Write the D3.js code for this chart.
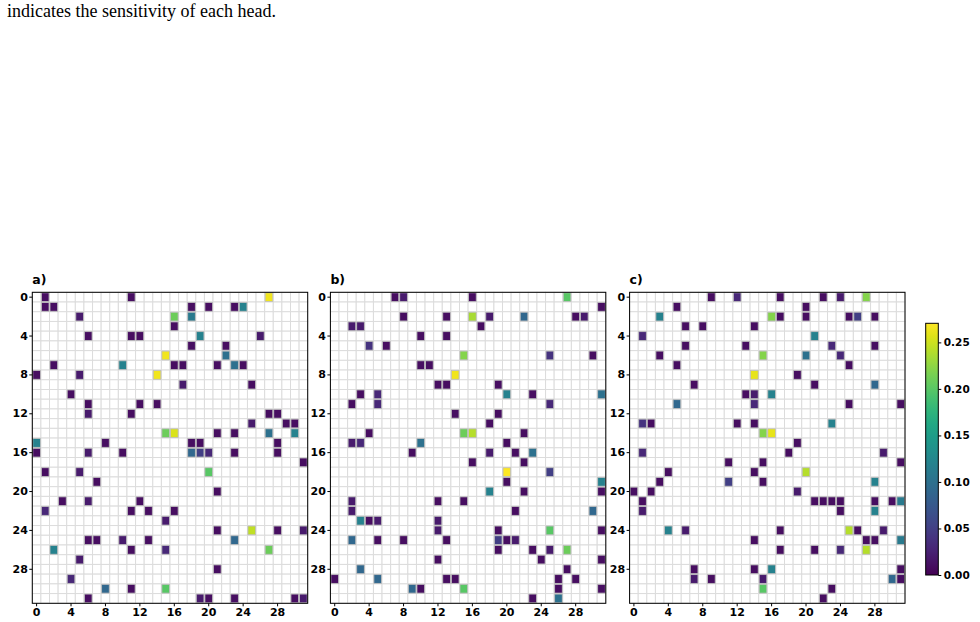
<!DOCTYPE html>
<html lang="en">
<head>
<meta charset="UTF-8">
<title>Head sensitivity maps</title>
<script src="https://d3js.org/d3.v7.min.js"></script>
<style>
    body { margin: 0; background: #fff; }
    svg { display: block; }
    .tick text { font-family: "DejaVu Sans", sans-serif; font-weight: bold; }
    .caption { font-family: "Liberation Serif", "Times New Roman", serif; font-size: 18px; }
    .plabel { font-family: "DejaVu Sans", sans-serif; font-weight: bold; font-size: 12.5px; }
</style>
</head>
<body>
<div id="chart"></div>
<script>
    // [row, col, value] for the non-empty cells of each 32x32 map
    const cellsA = [
        [0,1,.01],[0,11,.01],[0,27,.265],
        [1,1,.01],[1,2,.01],[1,18,.01],[1,20,.01],[1,23,.01],[1,24,.12],
        [2,5,.02],[2,16,.21],[2,18,.11],
        [3,16,.01],
        [4,6,.01],[4,11,.01],[4,12,.01],[4,19,.12],[4,26,.02],
        [5,18,.01],[5,22,.01],
        [6,15,.265],[6,22,.10],
        [7,2,.01],[7,10,.12],[7,16,.01],[7,17,.01],[7,21,.01],[7,23,.10],[7,24,.01],
        [8,0,.01],[8,5,.02],[8,14,.265],
        [9,17,.02],[9,25,.01],
        [10,4,.01],
        [11,6,.01],[11,12,.01],[11,14,.01],
        [12,6,.02],[12,11,.01],[12,27,.01],[12,28,.01],
        [13,25,.02],[13,29,.01],[13,30,.01],
        [14,15,.21],[14,16,.255],[14,21,.01],[14,23,.01],[14,27,.10],[14,30,.12],
        [15,0,.12],[15,8,.01],[15,18,.01],[15,19,.01],[15,28,.01],
        [16,0,.01],[16,6,.02],[16,10,.01],[16,18,.09],[16,19,.05],[16,20,.03],[16,23,.01],[16,28,.01],
        [17,31,.01],
        [18,1,.01],[18,5,.02],[18,20,.20],
        [19,7,.01],
        [20,21,.01],
        [21,3,.01],[21,6,.02],[21,12,.01],
        [22,1,.03],[22,11,.01],[22,13,.01],[22,16,.01],
        [23,15,.02],
        [24,21,.01],[24,25,.245],[24,28,.01],[24,31,.02],
        [25,6,.01],[25,7,.01],[25,10,.02],[25,13,.01],[25,23,.09],
        [26,2,.12],[26,11,.01],[26,15,.03],[26,27,.21],
        [27,5,.02],
        [28,21,.01],
        [29,4,.03],
        [30,8,.09],[30,11,.01],[30,15,.20],
        [31,6,.01],[31,19,.02],[31,20,.01],[31,23,.01],[31,30,.01],[31,31,.02]
    ];
    const cellsB = [
        [0,7,.01],[0,8,.02],[0,16,.01],[0,27,.20],
        [1,31,.01],
        [2,8,.01],[2,13,.01],[2,16,.235],[2,18,.02],[2,22,.09],[2,28,.01],[2,29,.02],
        [3,2,.02],[3,3,.02],[3,17,.01],
        [4,10,.01],[4,13,.01],
        [5,4,.04],[5,6,.01],
        [6,15,.22],[6,25,.04],[6,30,.01],
        [7,10,.01],[7,11,.01],
        [8,14,.265],
        [9,12,.01],[9,13,.01],[9,19,.01],
        [10,3,.01],[10,5,.03],[10,20,.12],[10,23,.01],[10,31,.10],
        [11,2,.01],[11,5,.03],[11,25,.03],
        [12,14,.01],[12,19,.01],
        [13,18,.01],
        [14,4,.01],[14,15,.21],[14,16,.24],[14,22,.01],
        [15,2,.02],[15,3,.03],[15,10,.10],[15,20,.01],
        [16,9,.01],[16,18,.02],[16,21,.01],[16,23,.10],
        [17,16,.01],[17,22,.01],
        [18,20,.27],[18,25,.05],
        [19,20,.01],[19,31,.12],
        [20,18,.12],[20,22,.01],[20,31,.01],
        [21,2,.02],[21,12,.01],[21,15,.01],
        [22,2,.02],[22,21,.01],[22,30,.09],
        [23,3,.12],[23,4,.01],[23,5,.02],[23,12,.02],
        [24,12,.02],[24,19,.01],[24,25,.20],[24,31,.01],
        [25,2,.09],[25,5,.01],[25,8,.01],[25,13,.01],[25,19,.05],[25,20,.01],[25,21,.02],
        [26,19,.01],[26,23,.01],[26,25,.02],[26,27,.21],
        [27,12,.01],[27,24,.01],[27,31,.01],
        [28,3,.09],[28,27,.01],
        [29,0,.01],[29,5,.09],[29,13,.01],[29,14,.01],[29,26,.01],[29,28,.01],
        [30,9,.09],[30,10,.01],[30,15,.20],[30,26,.01],[30,31,.01],
        [31,23,.01],[31,26,.10]
    ];
    const cellsC = [
        [0,9,.01],[0,12,.03],[0,17,.01],[0,22,.01],[0,24,.02],[0,27,.22],
        [1,5,.01],[1,20,.01],
        [2,3,.12],[2,16,.22],[2,17,.01],[2,20,.01],[2,25,.01],[2,26,.05],[2,28,.01],
        [3,6,.01],[3,8,.01],[3,14,.01],
        [4,1,.03],[4,21,.12],
        [5,6,.01],[5,13,.01],[5,23,.03],[5,28,.01],
        [6,3,.01],[6,15,.22],[6,20,.10],[6,24,.03],
        [7,5,.01],[7,25,.01],
        [8,14,.26],[8,19,.01],
        [9,7,.01],[9,21,.01],[9,28,.09],
        [10,13,.01],[10,14,.02],[10,16,.12],
        [11,5,.09],[11,14,.03],[11,25,.01],[11,31,.01],
        [13,1,.04],[13,2,.01],[13,12,.01],[13,14,.01],[13,23,.12],
        [14,15,.22],[14,16,.26],
        [15,19,.01],
        [16,1,.03],[16,18,.01],[16,29,.02],
        [17,11,.01],[17,15,.01],[17,31,.01],
        [18,4,.01],[18,14,.01],[18,20,.24],
        [19,3,.01],[19,11,.05],[19,15,.01],[19,28,.12],
        [20,0,.01],[20,2,.01],[20,19,.02],
        [21,1,.01],[21,21,.01],[21,22,.01],[21,23,.01],[21,24,.01],[21,28,.01],[21,30,.01],[21,31,.11],
        [22,1,.02],[22,24,.01],[22,28,.12],
        [24,4,.12],[24,6,.02],[24,17,.01],[24,25,.24],[24,26,.01],[24,29,.02],
        [25,14,.01],[25,27,.01],[25,28,.01],[25,31,.11],
        [26,17,.01],[26,21,.01],[26,24,.03],[26,27,.24],
        [28,7,.01],[28,14,.01],[28,16,.12],[28,31,.01],
        [29,7,.02],[29,9,.01],[29,15,.02],[29,30,.09],[29,31,.01],
        [30,15,.20],[30,23,.01],
        [31,22,.01]
    ];
    const panelNames = ["a)", "b)", "c)"];
    const gridTicks = [0, 4, 8, 12, 16, 20, 24, 28];
    const colorTicks = [0, 0.05, 0.10, 0.15, 0.20, 0.25];
    const colorMax = 0.2705;
    const n = 32;

    const width = 980, height = 622;
    const svg = d3.select("#chart").append("svg")
        .attr("width", width)
        .attr("height", height);

    svg.append("text")
        .attr("class", "caption")
        .attr("x", 7)
        .attr("y", 16.5)
        .text("indicates the sensitivity of each head.");

    const color = d3.scaleSequential(d3.interpolateViridis).domain([0, colorMax]);

    const panelLeft = [32.3, 330.4, 629.6];
    const panelW = 275.4, plotTop = 292.3, plotBottom = 603.3;
    const allCells = [cellsA, cellsB, cellsC];

    allCells.forEach((cells, i) => {
        const x = d3.scaleBand().domain(d3.range(n)).range([panelLeft[i], panelLeft[i] + panelW]);
        const y = d3.scaleBand().domain(d3.range(n)).range([plotTop, plotBottom]);
        const g = svg.append("g");

        // empty grid
        const grid = d3.cross(d3.range(n), d3.range(n));
        g.append("g").selectAll("rect")
            .data(grid)
            .join("rect")
            .attr("x", d => x(d[1]))
            .attr("y", d => y(d[0]))
            .attr("width", x.bandwidth())
            .attr("height", y.bandwidth())
            .attr("fill", "#fff")
            .attr("stroke", "#dcdcdc")
            .attr("stroke-width", 1);

        g.append("g").selectAll("rect")
            .data(cells)
            .join("rect")
            .attr("x", d => x(d[1]) + 0.5)
            .attr("y", d => y(d[0]) + 0.5)
            .attr("width", x.bandwidth() - 1)
            .attr("height", y.bandwidth() - 1)
            .attr("fill", d => color(d[2]))
            .attr("stroke", "#bdbdbd")
            .attr("stroke-width", 0.8);

        g.append("rect")
            .attr("x", panelLeft[i])
            .attr("y", plotTop)
            .attr("width", panelW)
            .attr("height", plotBottom - plotTop)
            .attr("fill", "none")
            .attr("stroke", "#000")
            .attr("stroke-width", 1);

        const ax = g.append("g")
            .attr("transform", `translate(0,${plotBottom})`)
            .call(d3.axisBottom(x).tickValues(gridTicks).tickSize(3).tickPadding(2));
        const ay = g.append("g")
            .attr("transform", `translate(${panelLeft[i]},0)`)
            .call(d3.axisLeft(y).tickValues(gridTicks).tickSize(3).tickPadding(1.5));
        [ax, ay].forEach(a => {
            a.select(".domain").remove();
            a.selectAll("text").attr("font-size", 11).attr("fill", "#000");
        });

        g.append("text")
            .attr("class", "plabel")
            .attr("x", panelLeft[i])
            .attr("y", 284)
            .text(panelNames[i]);
    });

    // colour bar
    const cbX = 925.7, cbW = 12.6, cbTop = 323.3, cbBottom = 575;
    const defs = svg.append("defs");
    const grad = defs.append("linearGradient")
        .attr("id", "cbar")
        .attr("x1", 0).attr("y1", 1).attr("x2", 0).attr("y2", 0);
    d3.range(0, 1.0001, 0.05).forEach(t => {
        grad.append("stop")
            .attr("offset", t)
            .attr("stop-color", d3.interpolateViridis(t));
    });
    svg.append("rect")
        .attr("x", cbX).attr("y", cbTop)
        .attr("width", cbW).attr("height", cbBottom - cbTop)
        .attr("fill", "url(#cbar)")
        .attr("stroke", "#000")
        .attr("stroke-width", 1);

    const cy = d3.scaleLinear().domain([0, colorMax]).range([cbBottom, cbTop]);
    const cax = svg.append("g")
        .attr("transform", `translate(${cbX + cbW},0)`)
        .call(d3.axisRight(cy).tickValues(colorTicks).tickFormat(d3.format(".2f")).tickSize(3).tickPadding(2.5));
    cax.select(".domain").remove();
    cax.selectAll("text").attr("font-size", 10.5).attr("fill", "#000");
</script>
</body>
</html>
